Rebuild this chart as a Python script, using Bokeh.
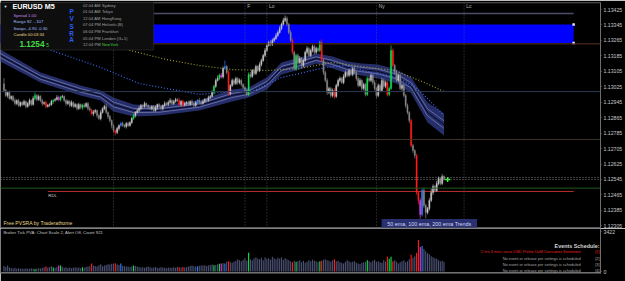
from bokeh.plotting import figure
from bokeh.layouts import column
from bokeh.models import (Range1d, LinearAxis, FixedTicker, PrintfTickFormatter,
                          Span, BoxAnnotation, Label)
from bokeh.embed import file_html
from bokeh.resources import INLINE

FONT = "Liberation Sans"

# ---------------- data (prices in points of 1e-5 above 1.12000) ----------------
BASE = 1.12
first_open = 1040
closes = [1006, 980, 995, 964, 975, 954, 938, 954, 928, 944,
          933, 949, 923, 938, 954, 933, 964, 980, 959, 975,
          954, 938, 944, 923, 930, 933, 949, 955, 959, 969,
          958, 972, 975, 954, 938, 949, 928, 944, 923, 933,
          912, 933, 918, 930, 923, 938, 912, 905, 885, 895,
          902, 876, 861, 892, 912, 923, 892, 871, 850, 824,
          799, 788, 809, 824, 835, 826, 819, 835, 824, 840,
          861, 876, 892, 902, 912, 928, 923, 938, 928, 918,
          912, 923, 902, 918, 933, 923, 912, 928, 938, 933,
          944, 954, 938, 949, 959, 954, 933, 950, 930, 938,
          944, 933, 949, 938, 928, 944, 955, 945, 938, 949,
          959, 954, 969, 975, 995, 1027, 1058, 1068, 1084, 1075,
          1120, 1130, 1099, 990, 1032, 1058, 1042, 1068, 1047, 1058,
          1037, 1021, 1006, 985, 1089, 1078, 1109, 1094, 1130, 1109,
          1140, 1161, 1187, 1213, 1239, 1254, 1244, 1265, 1275, 1291,
          1306, 1327, 1348, 1368, 1379, 1348, 1306, 1265, 1203, 1120,
          1187, 1151, 1172, 1135, 1161, 1203, 1223, 1187, 1213, 1234,
          1203, 1223, 1213, 1254, 1161, 1099, 1058, 996, 1016, 980,
          1006, 975, 1032, 1058, 1068, 1047, 1078, 1099, 1084, 1109,
          1089, 1120, 1099, 1068, 1032, 1058, 1016, 1037, 985, 1068,
          1058, 1084, 1047, 1016, 980, 1032, 1006, 1058, 1027, 1047,
          985, 1016, 1213, 1135, 1099, 1058, 1084, 1016, 1032, 980,
          928, 892, 850, 721, 695, 669, 477, 436, 363, 488,
          410, 374, 394, 436, 477, 509, 488, 524, 550, 524, 560, 545]
wick_up = [30, 8, 6, 10, 5, 7, 12, 6, 8, 5,
           6, 9, 5, 8, 10, 6, 12, 15, 7, 9,
           6, 8, 5, 10, 6, 7, 9, 5, 8, 12,
           10, 6, 8, 5, 7, 9, 6, 10, 5, 8,
           6, 9, 5, 7, 10, 6, 8, 12, 6, 9,
           8, 5, 7, 12, 6, 9, 15, 5, 8, 6,
           7, 5, 9, 6, 8, 10, 5, 7, 9, 6,
           8, 10, 6, 9, 12, 8, 6, 10, 5, 7,
           9, 6, 8, 10, 5, 7, 9, 6, 12, 8,
           10, 12, 6, 8, 9, 7, 14, 6, 8, 10,
           7, 9, 6, 10, 5, 8, 6, 12, 7, 9,
           8, 6, 10, 7, 12, 8, 10, 15, 9, 12,
           10, 31, 8, 12, 6, 10, 8, 9, 7, 10,
           8, 6, 9, 7, 10, 12, 8, 10, 9, 7,
           12, 10, 8, 12, 10, 9, 14, 10, 8, 12,
           10, 12, 9, 14, 15, 10, 8, 12, 10, 9,
           8, 10, 12, 7, 9, 10, 12, 8, 9, 10,
           8, 10, 7, 10, 16, 8, 10, 12, 9, 8,
           10, 12, 8, 9, 10, 7, 12, 10, 8, 9,
           10, 8, 9, 7, 10, 12, 6, 9, 8, 10,
           9, 10, 8, 12, 7, 10, 8, 12, 9, 10,
           8, 10, 26, 10, 8, 12, 9, 10, 8, 7,
           8, 10, 6, 10, 8, 6, 10, 8, 12, 10,
           15, 10, 8, 12, 20, 10, 8, 14, 10, 8, 12, 6]
wick_dn = [10, 8, 12, 6, 9, 7, 10, 8, 6, 9,
           8, 6, 10, 7, 12, 8, 6, 9, 10, 7,
           9, 12, 8, 10, 6, 9, 7, 12, 8, 6,
           8, 10, 6, 9, 12, 7, 10, 8, 9, 6,
           10, 7, 9, 12, 8, 6, 10, 9, 7, 12,
           9, 12, 8, 10, 6, 9, 8, 12, 10, 15,
           12, 15, 8, 10, 6, 9, 7, 10, 8, 6,
           9, 7, 10, 6, 8, 9, 12, 7, 10, 8,
           7, 10, 8, 6, 12, 8, 9, 10, 7, 8,
           9, 7, 10, 8, 6, 9, 8, 10, 12, 7,
           10, 8, 6, 9, 12, 7, 10, 8, 9, 6,
           8, 10, 7, 9, 6, 10, 8, 6, 9, 7,
           8, 6, 10, 12, 9, 7, 10, 8, 12, 9,
           10, 8, 12, 10, 8, 9, 7, 10, 8, 9,
           8, 10, 7, 9, 8, 6, 10, 8, 9, 7,
           8, 6, 9, 7, 8, 10, 9, 8, 12, 10,
           12, 10, 8, 12, 9, 7, 10, 9, 8, 10,
           10, 8, 9, 10, 8, 12, 10, 14, 9, 12,
           10, 12, 8, 9, 10, 7, 9, 8, 10, 9,
           8, 10, 9, 12, 10, 8, 12, 9, 10, 8,
           10, 9, 12, 10, 14, 9, 10, 8, 12, 9,
           10, 9, 8, 10, 12, 9, 10, 8, 12, 10,
           12, 10, 14, 10, 12, 15, 12, 20, 21, 10,
           12, 31, 10, 10, 8, 12, 10, 8, 9, 10, 8, 6]
volumes = [480, 390, 520, 350, 305, 260, 330, 245, 280, 225,
           260, 220, 285, 245, 225, 270, 235, 220, 250, 285,
           260, 315, 365, 435, 330, 390, 450, 350, 315, 385,
           505, 520, 390, 330, 365, 305, 350, 285, 330, 365,
           315, 350, 285, 365, 330, 390, 435, 450, 680, 520,
           480, 420, 540, 610, 450, 520, 565, 625, 590, 660,
           695, 715, 610, 565, 680, 485, 450, 420, 435, 390,
           450, 520, 480, 420, 390, 350, 365, 330, 390, 435,
           365, 330, 350, 390, 305, 330, 365, 350, 315, 285,
           350, 330, 315, 365, 330, 390, 365, 330, 385, 350,
           365, 420, 480, 520, 450, 420, 450, 485, 520, 505,
           540, 480, 520, 555, 590, 540, 565, 610, 660, 695,
           715, 680, 825, 870, 785, 740, 825, 915, 1045, 955,
           870, 1000, 1130, 915, 1610, 1045, 955, 1130, 1220, 1090,
           1045, 1175, 955, 1220, 1090, 1130, 1000, 1260, 1130, 1045,
           1175, 1090, 1220, 1000, 1130, 1045, 955, 870, 785, 915,
           825, 870, 955, 785, 915, 740, 825, 955, 870, 1000,
           915, 870, 785, 870, 915, 1000, 1045, 955, 915, 825,
           955, 1045, 870, 915, 785, 740, 695, 825, 955, 870,
           785, 825, 870, 740, 695, 650, 740, 785, 825, 955,
           870, 785, 915, 1000, 825, 870, 785, 740, 955, 825,
           1260, 1090, 1260, 870, 955, 825, 695, 785, 870, 955,
           785, 870, 1045, 1435, 1175, 1305, 1610, 2700, 2090, 2175,
           1915, 1740, 1565, 1480, 1305, 1220, 1130, 1090, 955, 870, 915, 825]
red_bars = [23, 48, 61, 96, 98, 123, 158, 174, 181, 210, 213, 223, 226, 227]
green_bars = [17, 27, 31, 43, 71, 115, 118, 134, 160, 173, 199, 211, 212]
blue_bars = [64, 106, 121, 229]
magenta_bars = [30, 119, 228]

band_bars = [-2, 20, 42, 53, 60, 71, 85, 107, 125, 134, 144, 152, 162, 171, 180, 188, 196, 205, 215, 223, 232, 241]
band_mid = [1187, 1073, 1006, 980, 933, 902, 902, 928, 980, 995, 1042, 1120, 1145, 1171, 1151, 1125, 1114, 1104, 1078, 1032, 892, 829]
band_half = [31, 26, 26, 26, 36, 31, 26, 26, 31, 26, 31, 31, 31, 26, 31, 31, 31, 36, 36, 41, 52, 57]
ema_blue_bars = [-2, 23, 53, 74, 107, 125, 137, 152, 162, 171, 180, 187, 201, 215, 225, 232, 241]
ema_blue = [1316, 1223, 1125, 1042, 985, 1001, 1006, 1073, 1094, 1114, 1130, 1135, 1099, 1073, 1026, 964, 876]
ema_yellow_bars = [30, 58, 67, 80, 89, 107, 125, 144, 162, 180, 196, 214, 229, 241]
ema_yellow = [1290, 1233, 1218, 1187, 1166, 1135, 1114, 1109, 1120, 1151, 1130, 1109, 1052, 1001]

price_ticks = [1.12305, 1.12385, 1.12465, 1.12545, 1.12625, 1.12705, 1.12785, 1.12865,
               1.12945, 1.13025, 1.13105, 1.13185, 1.13265, 1.13345, 1.13425]
vol_ticks = [0, 3422]
time_tick_bars = [0, 15, 31, 47, 63, 79, 95, 111, 127, 143, 159, 175, 191, 207, 223, 239]
time_tick_labels = ["11 Jun 2020", "11 Jun 23:15", "12 Jun 00:35", "12 Jun 01:55", "12 Jun 03:15",
                    "12 Jun 04:35", "12 Jun 05:55", "12 Jun 07:15", "12 Jun 08:35", "12 Jun 09:55",
                    "12 Jun 11:15", "12 Jun 12:35", "12 Jun 13:55", "12 Jun 15:15", "12 Jun 16:35",
                    "12 Jun 17:55"]
session_bars = [60, 132, 144, 204, 252]
session_labels = ["", "F", "Lo", "Ny", "Lc"]

zone_low, zone_high, zone_end_bar = 1.13252, 1.13347, 312
top_line = 1.13404
full_levels = [1.13247, 1.13000, 1.12752, 1.12500]
full_level_colors = ["#5a3422", "#2a3a52", "#3e3428", "#1f5a1f"]
rdl_level, rdl_start_bar = 1.12483, 24
bid, ask = 1.12545, 1.12555

# ---------------- layout helpers (pixel -> data) ----------------
W = 625
PXB, X0, FW = 1.835, 3.475, 603
K = 0.0008 / 15.45
VK = 3422 / 40.0


def bx(px):
    return (px - X0) / PXB


def py(y):
    return 1.13425 - (y - 9) * K


def vy(y):
    return (271 - y) * VK


def P(v):
    return BASE + v * 1e-5


n = len(closes)
idx = list(range(n))
opens = [first_open] + closes[:-1]
hi = [P(max(o, c) + u) for o, c, u in zip(opens, closes, wick_up)]
lo = [P(min(o, c) - d) for o, c, d in zip(opens, closes, wick_dn)]
top = [P(max(o, c)) for o, c in zip(opens, closes)]
bot = [P(min(o, c)) for o, c in zip(opens, closes)]

COL = {"r": "#ff1c1c", "g": "#12e04a", "b": "#2f7dff", "m": "#e03ce0"}
ccol, vcol = [], []
for i in idx:
    if i in red_bars:
        c = COL["r"]
    elif i in green_bars:
        c = COL["g"]
    elif i in blue_bars:
        c = COL["b"]
    elif i in magenta_bars:
        c = COL["m"]
    else:
        c = None
    if c is None:
        ccol.append("#c4c4c4" if closes[i] >= opens[i] else "#858585")
        vcol.append("#4b5174")
    else:
        ccol.append(c)
        vcol.append(c)

xr = Range1d(bx(0), bx(FW))

common = dict(width=W, x_range=xr, output_backend="svg", toolbar_location=None,
              x_axis_location=None, y_axis_location=None,
              background_fill_color="#000000", border_fill_color="#000000",
              outline_line_color=None, min_border_left=0, min_border_right=22)

# ---------------- main price panel ----------------
p = figure(height=228, y_range=Range1d(py(228), py(2)), min_border_top=2, min_border_bottom=0, **common)
p.grid.grid_line_color = None

ax = LinearAxis(ticker=FixedTicker(ticks=price_ticks), formatter=PrintfTickFormatter(format="%.5f"),
                axis_line_color="#6e6e6e", major_tick_line_color="#6e6e6e", major_tick_out=1,
                major_tick_in=0, minor_tick_line_color=None, major_label_text_color="#c8c8c8",
                major_label_text_font=FONT, major_label_text_font_size="5.2px", major_label_standoff=2)
p.add_layout(ax, "right")

# horizontal levels
p.segment(x0=[bx(-5)], x1=[zone_end_bar], y0=[top_line], y1=[top_line], line_color="#4c4c6c", line_width=1.4)
p.quad(left=[bx(-5)], right=[zone_end_bar], bottom=[zone_low], top=[zone_high], fill_color="#0000ff", line_color=None)
for lvl, lc in zip(full_levels, full_level_colors):
    p.add_layout(Span(location=lvl, dimension="width", line_color=lc, line_width=1))
p.segment(x0=[rdl_start_bar], x1=[zone_end_bar], y0=[rdl_level], y1=[rdl_level], line_color="#b83030", line_width=1)
p.scatter(x=[zone_end_bar, zone_end_bar], y=[zone_high, zone_low], marker="square", size=2.5,
          fill_color="#e0e0ff", line_color=None)
for lvl in (bid, ask):
    p.add_layout(Span(location=lvl, dimension="width", line_color="#9a9a9a", line_width=0.8, line_dash="1 2"))

# session lines
for sb in session_bars:
    p.add_layout(Span(location=sb, dimension="height", line_color="#5c5c5c", line_width=0.8, line_dash="1 2"))
p.add_layout(Span(location=py(2.3), dimension="width", line_color="#505050", line_width=1))
p.add_layout(Span(location=py(227.4), dimension="width", line_color="#5c5c5c", line_width=1.6))

# EMA ribbon
b_lo = [P(m - h) for m, h in zip(band_mid, band_half)]
b_hi = [P(m + h) for m, h in zip(band_mid, band_half)]
p.varea(x=band_bars, y1=b_lo, y2=b_hi, fill_color="#283070", fill_alpha=0.95)
p.line(band_bars, [P(m + 0.35 * h) for m, h in zip(band_mid, band_half)], line_color="#8d94c4", line_width=0.6)
p.line(band_bars, [P(m - 0.35 * h) for m, h in zip(band_mid, band_half)], line_color="#8d94c4", line_width=0.6)
p.line(band_bars, [P(m) for m in band_mid], line_color="#05051a", line_width=0.9)
p.line(ema_blue_bars, [P(v) for v in ema_blue], line_color="#3b6cf2", line_width=1.2, line_dash="1 2")
p.line(ema_yellow_bars, [P(v) for v in ema_yellow], line_color="#9c9a34", line_width=1.2, line_dash="1 2")

# candles
p.segment(x0=idx, x1=idx, y0=lo, y1=hi, line_color=ccol, line_width=0.7)
p.vbar(x=idx, width=0.72, top=top, bottom=bot, fill_color=ccol, line_color=ccol, line_width=0.3)
p.scatter(x=[n + 1], y=[P(closes[-1])], marker="cross", size=5, line_color="#30ff30", line_width=1.4)


def lab(fig, x, y, s, size, color, bold=False, align="left", **kw):
    fig.add_layout(Label(x=x, y=y, text=s, text_font=FONT, text_font_size=f"{size}px",
                         text_color=color, text_font_style="bold" if bold else "normal",
                         text_align=align, text_baseline="middle", **kw))


for sb, sl in zip(session_bars, session_labels):
    if sl:
        lab(p, sb + 1.2, py(5.5), sl, 5, "#b4b4b4")

lab(p, bx(48), py(194.5), "RDL", 4.4, "#c8c8c8")
lab(p, bx(3), py(222), "Free PVSRA by Traderathome", 5.1, "#e6da8c")
p.add_layout(BoxAnnotation(left=bx(383), right=bx(479), top=py(218.5), bottom=py(227),
                           fill_color="#283070", fill_alpha=1, line_color=None))
lab(p, bx(431), py(223), "50 ema, 100 ema, 200 ema Trends", 5.4, "#d4d6f2", align="center")
lab(p, bx(604.5), py(179), "1.12545", 5.2, "#000000", background_fill_color="#cfcfcf")

# info box
p.add_layout(BoxAnnotation(left=bx(-2), right=bx(154), top=py(-2), bottom=py(49.5),
                           fill_color="#0e0e0e", fill_alpha=1, line_color="#555555", line_width=1))
lab(p, bx(3), py(6), "▼", 4, "#e0e0e0")
lab(p, bx(12), py(6), "EURUSD  M5", 7.2, "#ffffff", bold=True)
lab(p, bx(13), py(15), "Spread 1.00", 4.2, "#c68ce6")
lab(p, bx(13), py(21.3), "Range  82 ...107", 4.2, "#a2bcff")
lab(p, bx(13), py(28), "Swaps -4.90 -0.30", 4.2, "#a2bcff")
lab(p, bx(13), py(34.3), "Candle 00:03:34", 4.2, "#e6d88c")
lab(p, bx(19), py(43), "1.1254", 8.2, "#44dd44", bold=True)
lab(p, bx(46), py(44), "5", 4.8, "#44dd44")
for ch, yy in zip("PVSRA", [11, 18.3, 25.7, 32.7, 39.3]):
    lab(p, bx(71.5), py(yy), ch, 6.4, "#2a5cff", bold=True, align="center")
times = ["02:04 AM", "01:04 AM", "12:04 AM", "07:04 PM", "06:04 PM", "05:04 PM", "12:04 PM"]
cities = ["Sydney", "Tokyo", "HongKong", "Helsinki (B)", "Frankfurt", "London (G+1)", "NewYork"]
rows = [5.3, 11, 17.7, 24.3, 31, 37.7, 43.7]
for t, c, yy in zip(times, cities, rows):
    lab(p, bx(83), py(yy), t, 4.1, "#a0a0a0")
    lab(p, bx(102), py(yy), c, 4.1, "#44cc44" if c == "NewYork" else "#a0a0a0")

# ---------------- volume panel ----------------
v = figure(height=53, y_range=Range1d(vy(273), vy(228)), min_border_top=0, min_border_bottom=8, **common)
v.grid.grid_line_color = None
vax = LinearAxis(ticker=FixedTicker(ticks=vol_ticks), axis_line_color="#6e6e6e",
                 major_tick_line_color="#6e6e6e", major_tick_out=1, major_tick_in=0,
                 minor_tick_line_color=None, major_label_text_color="#c8c8c8",
                 major_label_text_font=FONT, major_label_text_font_size="5.2px", major_label_standoff=2)
v.add_layout(vax, "right")
v.vbar(x=idx, width=0.62, top=volumes, bottom=0, fill_color=vcol, line_color=None)
v.add_layout(Span(location=vy(272), dimension="width", line_color="#707070", line_width=1))

lab(v, bx(3), vy(232), "Broker Tick PVA:   Chart Scale 2,  Alert Off,  Count  921", 4.3, "#c4c4c4")
lab(v, bx(602), vy(245), "Events Schedule:", 5.4, "#d4d4d4", bold=True, align="right")
ev_rows = [251, 257.5, 264, 270.3]
ev_text = ["2 hrs 4 mins since USD Prelim UoM Consumer Sentiment",
           "No event or release per settings is scheduled",
           "No event or release per settings is scheduled",
           "No event or release per settings is scheduled"]
for k_, (yy, t) in enumerate(zip(ev_rows, ev_text)):
    col = "#e82020" if k_ == 0 else "#a8a8a8"
    lab(v, bx(583), vy(yy), t, 3.9, col, align="right")
    lab(v, bx(602), vy(yy), f"[{k_ + 1}]", 3.9, col, align="right")

for tb, tl in zip(time_tick_bars, time_tick_labels):
    lab(v, tb, vy(276.5), tl, 4.1, "#c8c8c8")

layout = column(p, v, spacing=0)
open("out.html", "w").write(file_html(layout, INLINE, title="EURUSD M5"))
